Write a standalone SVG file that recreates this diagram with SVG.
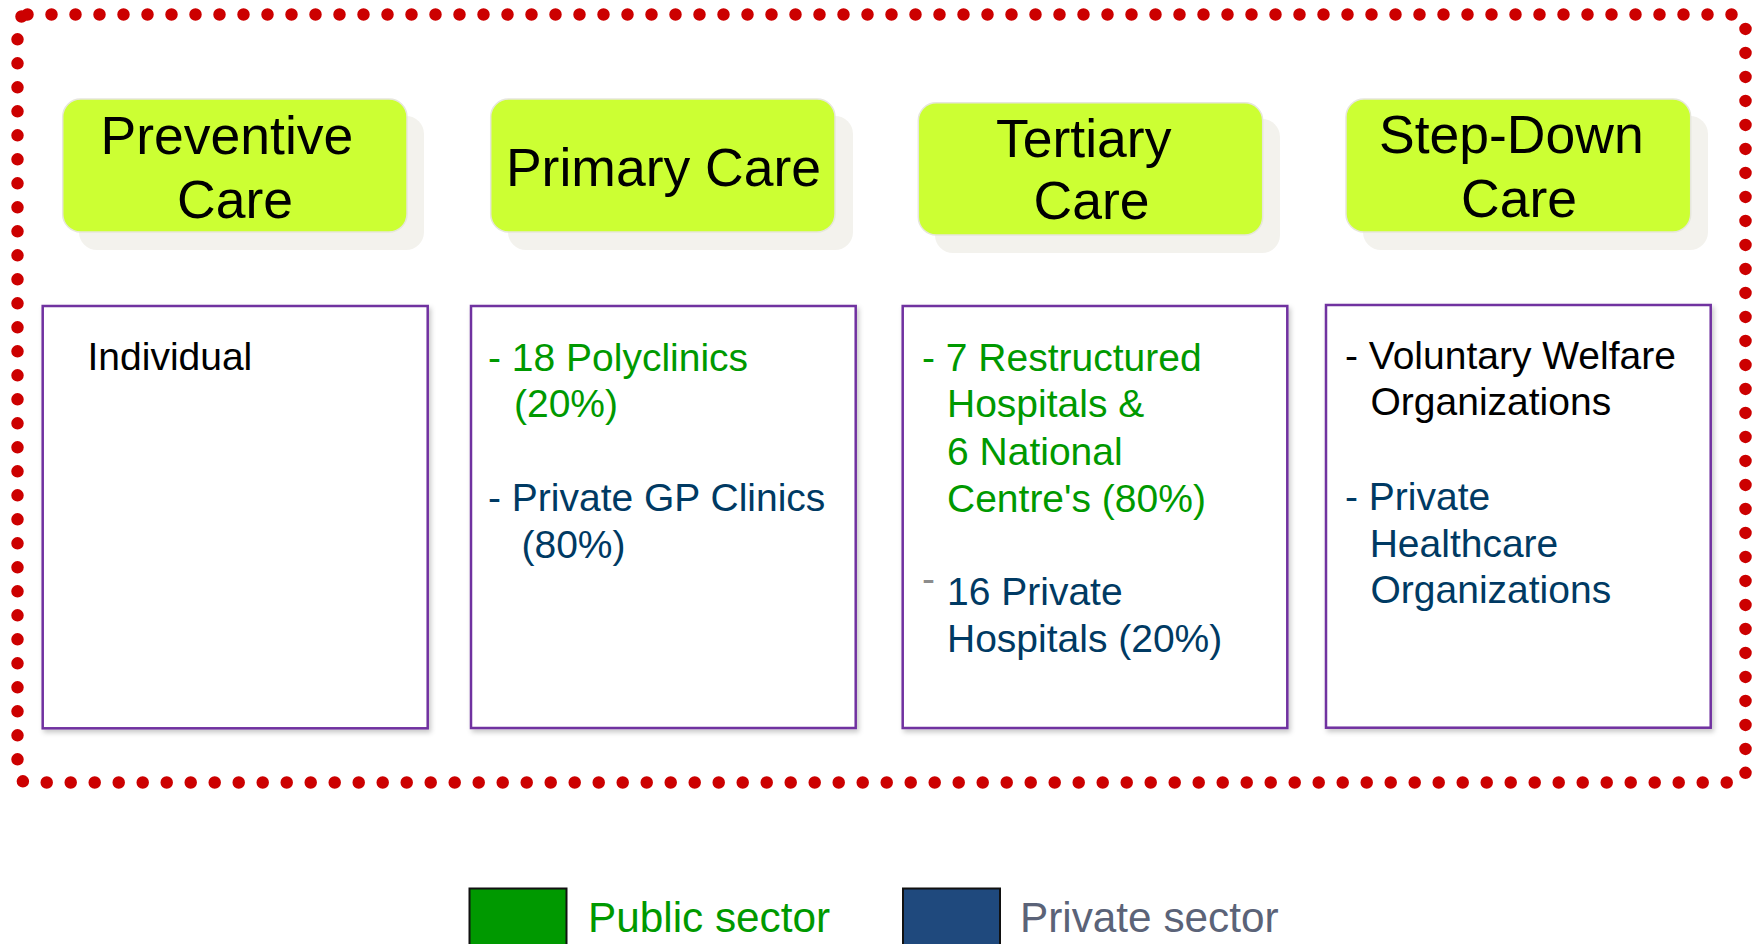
<svg xmlns="http://www.w3.org/2000/svg" width="1761" height="944" viewBox="0 0 1761 944">
<style>
  text { font-family: "Liberation Sans", Arial, sans-serif; }
  .hdr { fill: #ccff33; stroke: #e6e6dc; stroke-width: 1.5; }
  .hsh { fill: #f3f2ed; }
  .htx { font-size: 53.5px; fill: #000; }
  .mid { text-anchor: middle; }
  .box { fill: #ffffff; stroke: #7030a0; stroke-width: 2.5; }
  .ctx { font-size: 39px; }
  .blk { fill: #000000; }
  .grn { fill: #009900; }
  .blu { fill: #003a63; }
  .leg { font-size: 42.3px; }
</style>
<defs>
  <filter id="sh" x="-5%" y="-5%" width="115%" height="115%">
    <feDropShadow dx="2" dy="3" stdDeviation="2.5" flood-color="#000" flood-opacity="0.22"/>
  </filter>
</defs>
<rect x="0" y="0" width="1761" height="944" fill="#ffffff"/>

<g id="border">
  <rect x="17.5" y="14.5" width="1728" height="768" rx="10" fill="none" stroke="#cc0000" stroke-width="12.5" stroke-linecap="round" stroke-dasharray="0 24"/>
</g>

<g id="connectors"></g>

<g id="hdr-preventive">
  <rect class="hsh" x="79" y="116" width="345" height="134" rx="18"/>
  <rect class="hdr" x="62.7" y="99" width="344.3" height="133" rx="18"/>
  <text class="htx" x="100.5" y="154">Preventive</text>
  <text class="htx mid" x="235" y="218">Care</text>
</g>
<g id="hdr-primary">
  <rect class="hsh" x="508" y="116" width="345" height="134" rx="18"/>
  <rect class="hdr" x="490.7" y="99" width="344.3" height="133" rx="18"/>
  <text class="htx mid" x="663.5" y="186">Primary Care</text>
</g>
<g id="hdr-tertiary">
  <rect class="hsh" x="935" y="119" width="345" height="134" rx="18"/>
  <rect class="hdr" x="918.3" y="102.7" width="344.4" height="132.3" rx="18"/>
  <text class="htx" x="996" y="157.3">Tertiary</text>
  <text class="htx mid" x="1091.5" y="219.3">Care</text>
</g>
<g id="hdr-stepdown">
  <rect class="hsh" x="1363" y="116" width="345" height="134" rx="18"/>
  <rect class="hdr" x="1346" y="99" width="344.7" height="133" rx="18"/>
  <text class="htx" x="1379" y="153.3">Step-Down</text>
  <text class="htx mid" x="1519" y="216.7">Care</text>
</g>

<g id="box-preventive">
  <rect class="box" x="42.7" y="306" width="385" height="422.3" filter="url(#sh)"/>
  <text class="ctx blk" x="87.5" y="370">Individual</text>
</g>
<g id="box-primary">
  <rect class="box" x="471" y="306" width="384.7" height="422" filter="url(#sh)"/>
  <text class="ctx grn" x="488" y="370.7">- 18 Polyclinics</text>
  <text class="ctx grn" x="514" y="417.3">(20%)</text>
  <text class="ctx blu" x="488" y="511">- Private GP Clinics</text>
  <text class="ctx blu" x="521.5" y="558">(80%)</text>
</g>
<g id="box-tertiary">
  <rect class="box" x="902.7" y="306" width="384.6" height="422" filter="url(#sh)"/>
  <text class="ctx grn" x="922" y="370.7">- 7 Restructured</text>
  <text class="ctx grn" x="947" y="417.3">Hospitals &amp;</text>
  <text class="ctx grn" x="947" y="465">6 National</text>
  <text class="ctx grn" x="947" y="511.7">Centre's (80%)</text>
  <text class="ctx" x="922" y="592" fill="#8c8c8c">-</text>
  <text class="ctx blu" x="947" y="605">16 Private</text>
  <text class="ctx blu" x="947" y="652.3">Hospitals (20%)</text>
</g>
<g id="box-stepdown">
  <rect class="box" x="1326" y="305" width="384.7" height="422.7" filter="url(#sh)"/>
  <text class="ctx blk" x="1345" y="369.3">- Voluntary Welfare</text>
  <text class="ctx blk" x="1370.5" y="415">Organizations</text>
  <text class="ctx blu" x="1345" y="510">- Private</text>
  <text class="ctx blu" x="1369.7" y="556.7">Healthcare</text>
  <text class="ctx blu" x="1370.5" y="602.7">Organizations</text>
</g>

<g id="legend-public">
  <rect x="469.5" y="888.5" width="97" height="70" fill="#009900" stroke="#111111" stroke-width="2"/>
  <text class="leg" x="588" y="932" fill="#009900">Public sector</text>
</g>
<g id="legend-private">
  <rect x="903" y="888.5" width="97" height="70" fill="#1f497d" stroke="#111111" stroke-width="2"/>
  <text class="leg" x="1020" y="932" fill="#5b6378">Private sector</text>
</g>
</svg>
